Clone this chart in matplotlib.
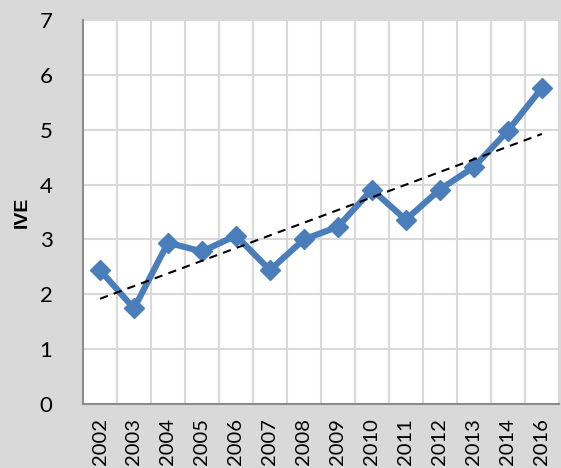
import numpy as np
import matplotlib.pyplot as plt

# data
years = ['2002', '2003', '2004', '2005', '2006', '2007', '2008',
         '2009', '2010', '2011', '2012', '2013', '2014', '2016']
ive = [2.44, 1.74, 2.94, 2.78, 3.07, 2.44, 3.00,
       3.23, 3.91, 3.36, 3.91, 4.32, 4.98, 5.76]
yticks = [0, 1, 2, 3, 4, 5, 6, 7]

BLUE = '#4A7EBB'
BG = '#D9D9D9'
FONT = 'Lato'

fig = plt.figure(figsize=(5.61, 4.68), dpi=100, facecolor=BG)
ax = fig.add_axes([0.148, 0.137, 0.848, 0.820])
ax.set_facecolor('white')

x = np.arange(len(years))
ax.plot(x, ive, color=BLUE, lw=4.5, marker='D', ms=10, zorder=3)

# linear trend line
k, b = np.polyfit(x, ive, 1)
ax.plot(x, k * x + b, color='black', lw=1.5, ls=(0, (4, 3)), zorder=4)

ax.set_xlim(-0.5, len(years) - 0.5)
ax.set_ylim(0, 7)
ax.set_yticks(yticks)
ax.set_yticklabels([str(t) for t in yticks], fontsize=16, family=FONT)
ax.set_xticks(x)
ax.set_xticklabels(years, rotation=90, fontsize=14.5, family=FONT)
ax.set_xticks(np.arange(-0.5, len(years)), minor=True)
ax.tick_params(which='both', length=0)
ax.tick_params(axis='y', pad=22)
ax.tick_params(axis='x', pad=10)

ax.grid(True, axis='y', color=BG, lw=1.5)
ax.grid(True, axis='x', which='minor', color=BG, lw=1.5)
ax.set_axisbelow(True)

for s in ['top', 'right']:
    ax.spines[s].set_visible(False)
for s in ['left', 'bottom']:
    ax.spines[s].set_color('#8C8C8C')
    ax.spines[s].set_linewidth(1.5)

ax.set_ylabel('IVE', fontsize=14, fontweight='bold', family='Liberation Sans', labelpad=6)

fig.savefig('out.png', dpi=100, facecolor=BG)
